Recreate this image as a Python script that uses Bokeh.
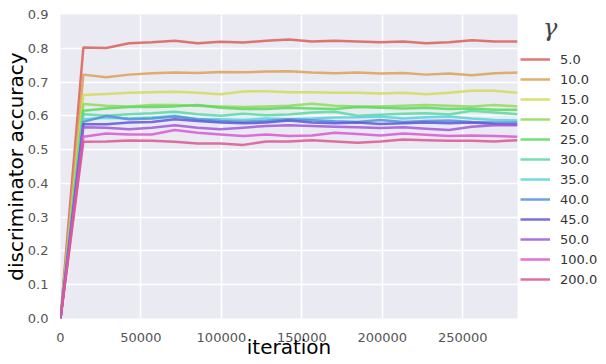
from bokeh.plotting import figure
from bokeh.layouts import row
from bokeh.models import Range1d, Legend, LegendItem, FixedTicker, NumeralTickFormatter
from bokeh.embed import file_html
from bokeh.resources import INLINE

iterations = [i * 14200 for i in range(21)]
gammas = ["5.0", "10.0", "15.0", "20.0", "25.0", "30.0", "35.0", "40.0", "45.0", "50.0", "100.0", "200.0"]
acc_5 = [0, 0.802, 0.801, 0.815, 0.818, 0.822, 0.815, 0.819, 0.817, 0.822, 0.826, 0.820, 0.822, 0.820, 0.818, 0.820, 0.815, 0.818, 0.824, 0.820, 0.820]
acc_10 = [0, 0.722, 0.714, 0.722, 0.726, 0.728, 0.727, 0.730, 0.729, 0.731, 0.732, 0.728, 0.726, 0.728, 0.725, 0.727, 0.722, 0.725, 0.720, 0.726, 0.728]
acc_15 = [0, 0.662, 0.665, 0.668, 0.670, 0.671, 0.668, 0.664, 0.672, 0.673, 0.670, 0.670, 0.668, 0.668, 0.666, 0.668, 0.664, 0.668, 0.674, 0.674, 0.668]
acc_20 = [0, 0.635, 0.630, 0.628, 0.632, 0.632, 0.630, 0.628, 0.626, 0.628, 0.630, 0.636, 0.630, 0.628, 0.628, 0.630, 0.632, 0.630, 0.628, 0.632, 0.628]
acc_25 = [0, 0.615, 0.622, 0.626, 0.626, 0.628, 0.632, 0.624, 0.620, 0.620, 0.624, 0.622, 0.620, 0.626, 0.624, 0.622, 0.624, 0.620, 0.622, 0.618, 0.618]
acc_30 = [0, 0.605, 0.600, 0.605, 0.608, 0.612, 0.605, 0.600, 0.606, 0.602, 0.604, 0.610, 0.612, 0.600, 0.603, 0.606, 0.608, 0.604, 0.615, 0.610, 0.605]
acc_35 = [0, 0.590, 0.594, 0.592, 0.595, 0.600, 0.590, 0.590, 0.588, 0.592, 0.590, 0.592, 0.595, 0.596, 0.598, 0.592, 0.596, 0.598, 0.592, 0.588, 0.586]
acc_40 = [0, 0.582, 0.600, 0.590, 0.592, 0.598, 0.590, 0.585, 0.582, 0.585, 0.590, 0.587, 0.584, 0.582, 0.588, 0.582, 0.585, 0.586, 0.582, 0.580, 0.580]
acc_45 = [0, 0.575, 0.575, 0.580, 0.582, 0.590, 0.585, 0.580, 0.578, 0.580, 0.586, 0.580, 0.578, 0.580, 0.576, 0.578, 0.580, 0.578, 0.580, 0.576, 0.574]
acc_50 = [0, 0.566, 0.565, 0.560, 0.565, 0.572, 0.565, 0.560, 0.565, 0.570, 0.572, 0.570, 0.568, 0.566, 0.564, 0.566, 0.562, 0.558, 0.568, 0.572, 0.572]
acc_100 = [0, 0.538, 0.548, 0.545, 0.545, 0.558, 0.550, 0.545, 0.540, 0.545, 0.540, 0.542, 0.550, 0.546, 0.542, 0.548, 0.544, 0.540, 0.542, 0.540, 0.538]
acc_200 = [0, 0.523, 0.524, 0.527, 0.526, 0.523, 0.518, 0.518, 0.514, 0.524, 0.524, 0.528, 0.524, 0.520, 0.524, 0.530, 0.528, 0.526, 0.526, 0.524, 0.528]
series = [acc_5, acc_10, acc_15, acc_20, acc_25, acc_30, acc_35, acc_40, acc_45, acc_50, acc_100, acc_200]
colors = ["#db5f57", "#dba157", "#d3db57", "#91db57", "#57db5f", "#57dba1", "#57d3db", "#5791db", "#5f57db", "#a157db", "#db57d3", "#db5791"]
y_ticks = [0.0, 0.1, 0.2, 0.3, 0.4, 0.5, 0.6, 0.7, 0.8, 0.9]
x_ticks = [0, 50000, 100000, 150000, 200000, 250000]

p = figure(width=520, height=364, output_backend="svg", toolbar_location=None,
           x_range=Range1d(0, 284000), y_range=Range1d(0, 0.9),
           min_border_left=60, min_border_right=3, min_border_top=14, min_border_bottom=46)
p.background_fill_color = "#eaeaf2"
p.border_fill_color = "white"
p.outline_line_color = None

for g, s, c in zip(gammas, series, colors):
    p.line(iterations, s, line_color=c, line_width=2.5, line_alpha=0.85)

for ax in (p.xaxis[0], p.yaxis[0]):
    ax.axis_line_color = None
    ax.major_tick_line_color = None
    ax.minor_tick_line_color = None
    ax.major_label_text_font = "DejaVu Sans"
    ax.major_label_text_font_size = "13px"
    ax.major_label_text_color = "#555555"
    ax.axis_label_text_font = "DejaVu Sans"
    ax.axis_label_text_font_size = "20px"
    ax.axis_label_text_font_style = "normal"
    ax.axis_label_text_color = "black"

p.xaxis.ticker = FixedTicker(ticks=x_ticks)
p.yaxis.ticker = FixedTicker(ticks=y_ticks)
p.yaxis.formatter = NumeralTickFormatter(format="0.0")
p.xaxis.formatter = NumeralTickFormatter(format="0")
p.xaxis.axis_label = "iteration"
p.yaxis.axis_label = "discriminator accuracy"
p.xaxis.major_label_standoff = 8
p.yaxis.major_label_standoff = 6
p.xaxis.axis_label_standoff = -10
p.yaxis.axis_label_standoff = -3

p.xgrid.grid_line_color = "white"
p.ygrid.grid_line_color = "white"
p.xgrid.grid_line_width = 1.5
p.ygrid.grid_line_width = 1.5

# legend panel: a companion figure whose lines (same data) lie outside its view
q = figure(width=86, height=364, output_backend="svg", toolbar_location=None,
           x_range=Range1d(-2, -1), y_range=Range1d(-2, -1),
           x_axis_type=None, y_axis_type=None,
           min_border_left=0, min_border_right=0, min_border_top=0, min_border_bottom=0)
q.outline_line_color = None
q.xgrid.visible = False
q.ygrid.visible = False
items = []
for g, s, c in zip(gammas, series, colors):
    r = q.line(iterations, s, line_color=c, line_width=2.5, line_alpha=0.85)
    items.append(LegendItem(label=g, renderers=[r]))

legend = Legend(items=items, location="top_left", title="\u00a0\u00a0\u00a0\u03b3",
                title_text_font="DejaVu Serif", title_text_font_style="italic",
                title_text_font_size="24px", title_standoff=7,
                label_text_font="DejaVu Sans", label_text_font_size="13px",
                label_text_color="#333333", glyph_width=30, glyph_height=20,
                label_height=20, label_standoff=10, spacing=0, padding=8, margin=0,
                border_line_color=None, background_fill_alpha=0)
q.add_layout(legend)

layout = row(p, q)
open("out.html", "w").write(file_html(layout, INLINE))
